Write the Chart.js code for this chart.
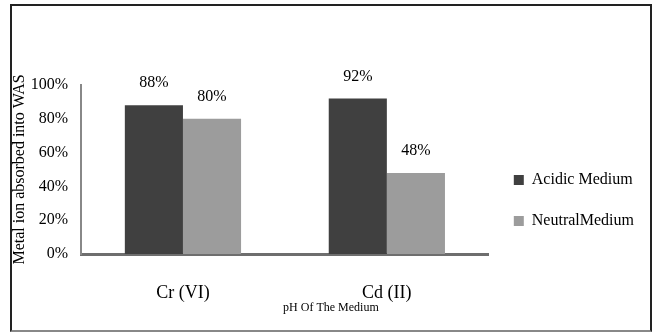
<!DOCTYPE html>
<html>
<head>
<meta charset="utf-8">
<script src="https://cdn.jsdelivr.net/npm/chart.js"></script>
<style>
    body { margin: 0; background: #fff; }
    #wrap { position: relative; width: 653px; height: 332px; }
    #grafico { position: absolute; left: 0; top: 0; }
    #marco {
        position: absolute; left: 10px; top: 4px; width: 638px; height: 324px;
        border: 2px solid #222; border-bottom-color: #888; pointer-events: none;
    }
</style>
</head>
<body>
<div id="wrap">
    <canvas id="grafico" width="653" height="332"></canvas>
    <div id="marco"></div>
</div>
<script>
// Datos del gráfico
const metales = ['Cr (VI)', 'Cd (II)'];
const medioAcido = [88, 92];
const medioNeutro = [80, 48];
const ticksY = [0, 20, 40, 60, 80, 100];

const fuente = "'Liberation Serif', 'Times New Roman', serif";

// Etiquetas de valor encima de cada barra
const etiquetasBarras = {
    id: 'etiquetasBarras',
    afterDatasetsDraw(chart) {
        const ctx = chart.ctx;
        ctx.save();
        ctx.font = `16px ${fuente}`;
        ctx.fillStyle = '#000';
        ctx.textAlign = 'center';
        ctx.textBaseline = 'middle';
        chart.data.datasets.forEach((ds, i) => {
            chart.getDatasetMeta(i).data.forEach((bar, j) => {
                ctx.fillText(ds.data[j] + '%', bar.x, bar.y - 22);
            });
        });
        ctx.restore();
    }
};

// Título del eje X (desplazado a la derecha)
const tituloEjeX = {
    id: 'tituloEjeX',
    afterDraw(chart) {
        const ctx = chart.ctx;
        const area = chart.chartArea;
        ctx.save();
        ctx.font = `12px ${fuente}`;
        ctx.fillStyle = '#000';
        ctx.textAlign = 'center';
        ctx.textBaseline = 'middle';
        ctx.fillText('pH Of The Medium', (area.left + area.right) / 2 + 46, 308);
        ctx.restore();
    }
};

const ctx = document.getElementById('grafico').getContext('2d');
new Chart(ctx, {
    type: 'bar',
    data: {
        labels: metales,
        datasets: [
            { label: 'Acidic Medium', data: medioAcido, backgroundColor: '#404040', borderWidth: 0 },
            { label: 'NeutralMedium', data: medioNeutro, backgroundColor: '#9c9c9c', borderWidth: 0 }
        ]
    },
    options: {
        responsive: false,
        animation: false,
        layout: { padding: { top: 85, right: 9, bottom: 0, left: 0 } },
        datasets: { bar: { categoryPercentage: 0.57, barPercentage: 1 } },
        scales: {
            x: {
                grid: { display: false, drawTicks: false },
                border: { color: '#6e6e6e', width: 3 },
                ticks: { color: '#000', font: { family: fuente, size: 18 }, padding: 28 },
                afterFit: (scale) => { scale.height = 78; }
            },
            y: {
                min: 0,
                max: 100,
                grid: { display: false, drawTicks: false },
                border: { color: '#888', width: 2 },
                afterBuildTicks: (scale) => { scale.ticks = ticksY.map(v => ({ value: v })); },
                ticks: {
                    color: '#000',
                    font: { family: fuente, size: 16 },
                    padding: 13,
                    callback: (v) => v + '%'
                },
                title: {
                    display: true,
                    text: 'Metal ion absorbed into WAS',
                    color: '#000',
                    font: { family: fuente, size: 16 },
                    padding: { top: 10, bottom: 0 }
                },
                afterFit: (scale) => { scale.width = 81; }
            }
        },
        plugins: {
            legend: {
                position: 'right',
                align: 'end',
                fullSize: false,
                labels: {
                    color: '#000',
                    font: { family: fuente, size: 16 },
                    boxWidth: 10,
                    boxHeight: 10,
                    padding: 25
                }
            },
            tooltip: { enabled: false }
        }
    },
    plugins: [etiquetasBarras, tituloEjeX]
});
</script>
</body>
</html>
